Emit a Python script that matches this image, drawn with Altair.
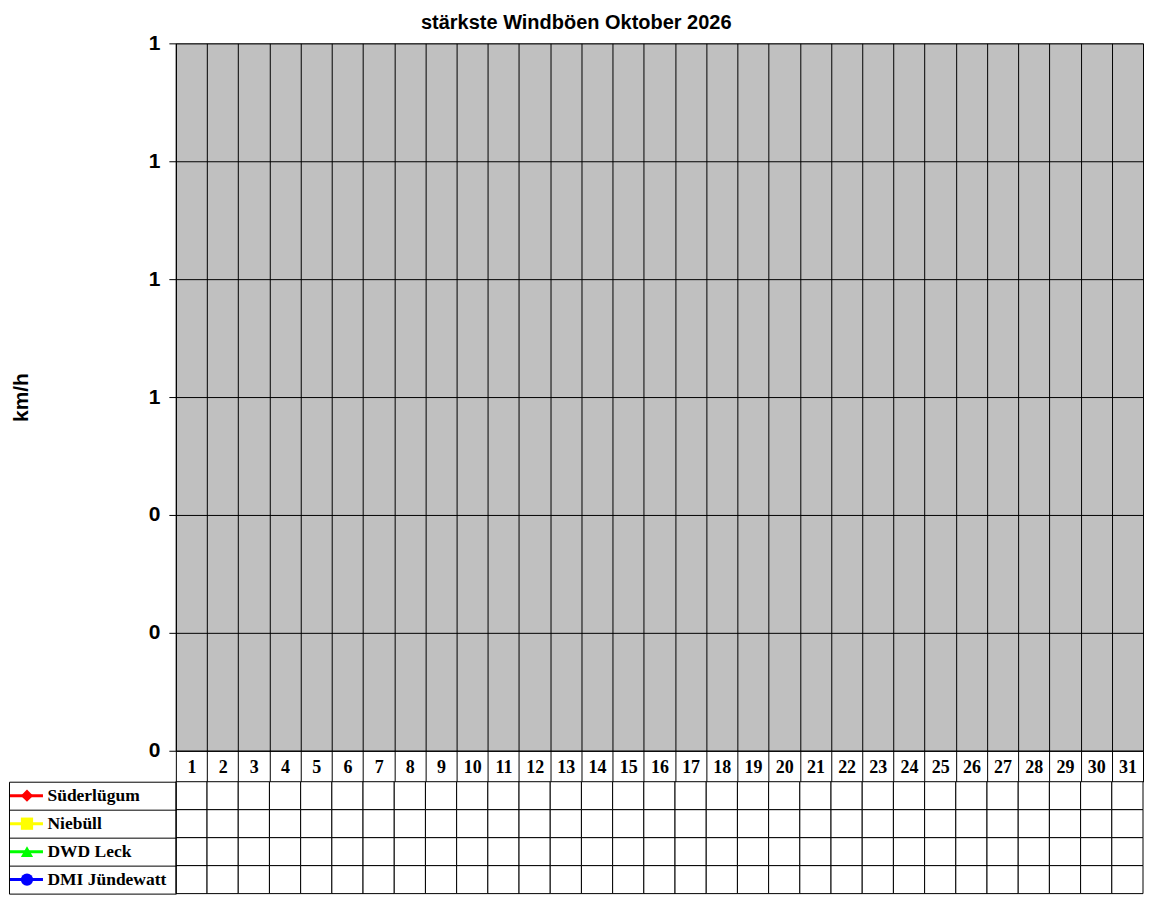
import altair as alt
import pandas as pd

# ---- data -------------------------------------------------------------
days = [str(d) for d in range(1, 32)]
series = ["Süderlügum", "Niebüll", "DWD Leck", "DMI Jündewatt"]
series_colors = ["#FF0000", "#FFFF00", "#00FF00", "#0000FF"]
series_shapes = ["diamond", "square", "triangle-up", "circle"]

# strongest gusts (km/h) per day - no readings available for October 2026
vals_suederluegum = [None] * 31
vals_niebuell = [None] * 31
vals_dwd_leck = [None] * 31
vals_dmi_juendewatt = [None] * 31

y_ticks = [0, 0.2, 0.4, 0.6, 0.8, 1.0, 1.2]

all_vals = [vals_suederluegum, vals_niebuell, vals_dwd_leck, vals_dmi_juendewatt]
rows = []
for s, vals in zip(series, all_vals):
    for d, v in zip(days, vals):
        rows.append({"day": d, "series": s, "value": v})
df = pd.DataFrame(rows)
df_series = pd.DataFrame({"series": series, "color": series_colors, "shape": series_shapes})

SANS = "Arial, Liberation Sans"
SERIF = "Times New Roman, Liberation Serif"

PLOT_W = 968
KEY_W = 167

x_scale = alt.Scale(type="band", domain=days, paddingInner=0, paddingOuter=0)

# ---- main plot --------------------------------------------------------
main = alt.Chart(df).mark_line(point=True, strokeWidth=2).encode(
    x=alt.X("day:N", sort=days, scale=x_scale,
            axis=alt.Axis(title=None, tickBand="extent", grid=True, gridColor="black",
                          gridOpacity=1, gridWidth=1, ticks=True, tickSize=31,
                          tickColor="black", domainColor="black", labelAngle=0,
                          labelFont=SERIF, labelFontSize=18, labelFontWeight="bold",
                          labelColor="black", labelPadding=-23)),
    y=alt.Y("value:Q", scale=alt.Scale(domain=[0, 1.2], nice=False, zero=True),
            axis=alt.Axis(values=y_ticks, format=".0f", title="km/h",
                          titleFont=SANS, titleFontSize=21, titleFontWeight="bold",
                          titleColor="black", titleAngle=-90, titleX=-154, titleY=354,
                          titleAlign="center", titleBaseline="middle",
                          labelFont=SANS, labelFontSize=21, labelFontWeight="bold",
                          labelColor="black", labelPadding=9, tickSize=7,
                          tickColor="black", domainColor="black", grid=True,
                          gridColor="black", gridOpacity=1, gridWidth=1)),
    color=alt.Color("series:N", scale=alt.Scale(domain=series, range=series_colors),
                    legend=None),
).properties(width=PLOT_W, height=708,
             view=alt.ViewBackground(fill="#C0C0C0", stroke="#808080", strokeWidth=1))

# ---- data table -------------------------------------------------------
y_scale = alt.Scale(domain=series, paddingInner=0, paddingOuter=0)

cells = alt.Chart(df).mark_rect(fill="white", stroke="black", strokeWidth=1).encode(
    x=alt.X("day:N", sort=days, scale=alt.Scale(domain=days, paddingInner=0, paddingOuter=0),
            axis=None),
    y=alt.Y("series:N", sort=series, scale=y_scale,
            axis=alt.Axis(title=None, orient="left", tickBand="extent", ticks=True,
                          tickSize=KEY_W, tickColor="black", domain=True,
                          domainColor="black", grid=False, labelAlign="left",
                          labelBaseline="middle", labelPadding=-38, labelFont=SERIF,
                          labelFontSize=17.5, labelFontWeight="bold",
                          labelColor="black")),
)

cell_text = alt.Chart(df).transform_filter("isValid(datum.value)").mark_text(
    font=SERIF, fontSize=14, fontWeight="bold", color="black").encode(
    x=alt.X("day:N", sort=days, scale=alt.Scale(domain=days, paddingInner=0, paddingOuter=0),
            axis=None),
    y=alt.Y("series:N", sort=series, scale=y_scale, axis=None),
    text=alt.Text("value:Q", format=".0f"),
)

key_line = alt.Chart(df_series).mark_rule(strokeWidth=3).encode(
    x=alt.value(-166), x2=alt.value(-133),
    y=alt.Y("series:N", sort=series, scale=y_scale,
            axis=alt.Axis(orient="left", offset=KEY_W, labels=False, ticks=False,
                          grid=False, domain=True, domainColor="black", title=None)),
    color=alt.Color("color:N", scale=None),
)

key_point = alt.Chart(df_series).mark_point(filled=True, size=150, opacity=1).encode(
    x=alt.value(-149),
    y=alt.Y("series:N", sort=series, scale=y_scale, axis=None),
    color=alt.Color("color:N", scale=None),
    shape=alt.Shape("shape:N", scale=None),
)

table = alt.layer(cells, cell_text, key_line, key_point).resolve_axis(
    y="independent").properties(width=PLOT_W, height=112)

chart = alt.vconcat(main, table, spacing=31, bounds="flush").properties(
    title=alt.TitleParams(text="stärkste Windböen Oktober 2026", font=SANS, fontSize=20,
                          fontWeight="bold", color="black", anchor="middle",
                          offset=-1),
    padding={"left": 0, "top": 4, "right": 0, "bottom": 0},
).configure_view(stroke=None)

chart.save("out.html", embed_options={"renderer": "svg", "actions": False})
